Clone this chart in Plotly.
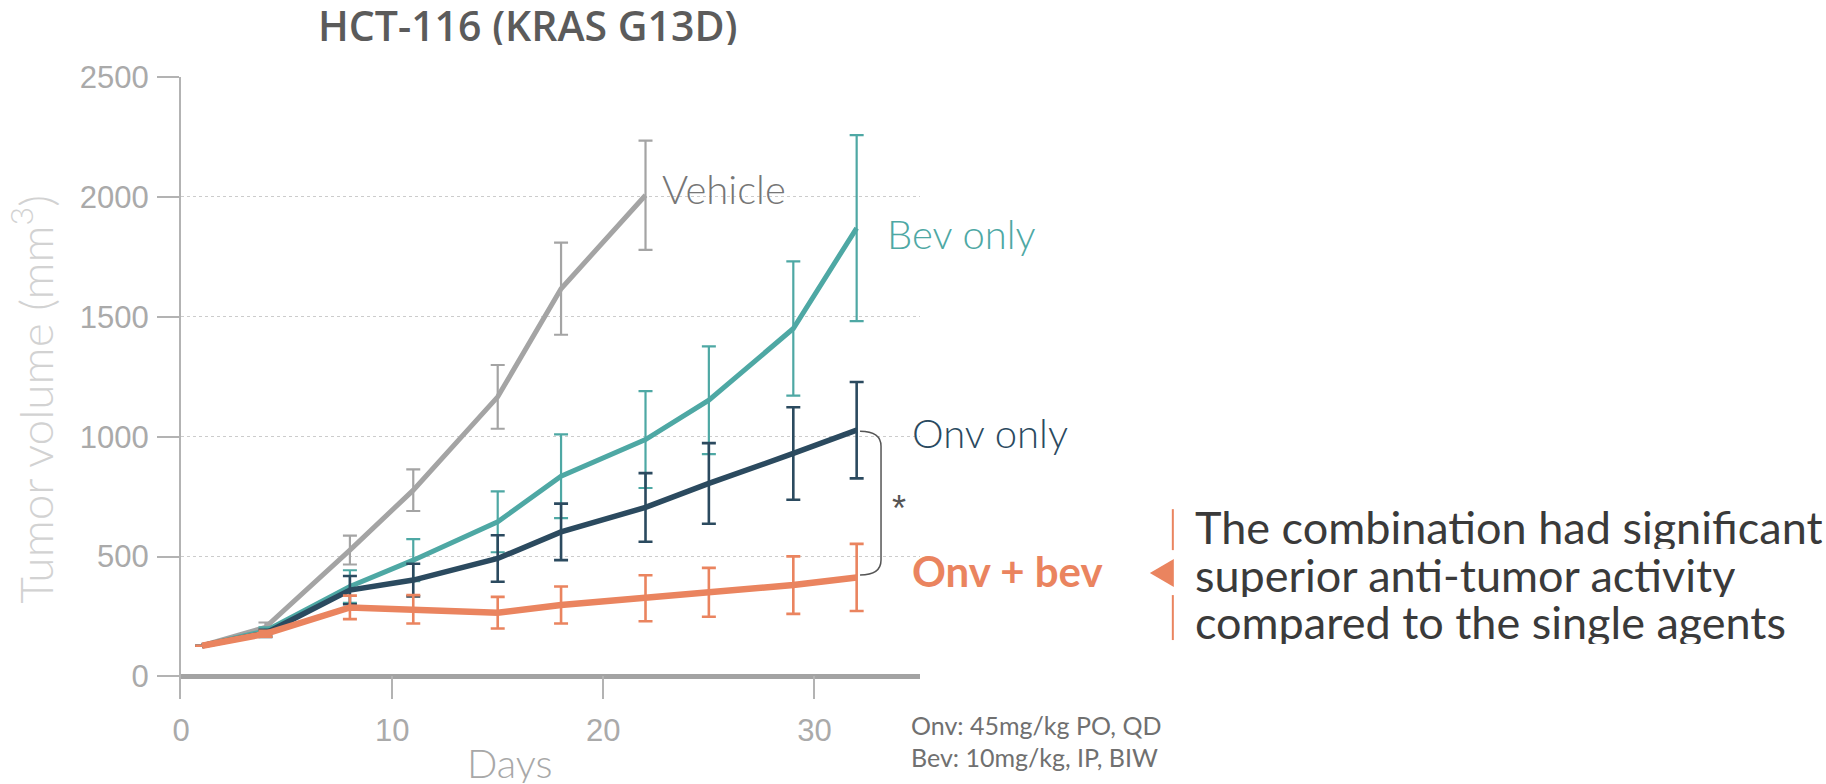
import plotly.graph_objects as go

# ---------------- data ----------------
days_vehicle = [1, 4, 8, 11, 15, 18, 22]
vehicle = [128, 205, 527, 777, 1166, 1617, 2007]
vehicle_err = [0, 20, 60, 87, 133, 192, 228]

days = [1, 4, 8, 11, 15, 18, 22, 25, 29, 32]
bev_only = [128, 190, 375, 485, 645, 835, 988, 1152, 1451, 1870]
bev_err = [0, 15, 68, 88, 127, 175, 202, 225, 280, 388]

onv_only = [128, 180, 360, 402, 492, 603, 705, 805, 930, 1027]
onv_err = [0, 15, 59, 68, 97, 118, 143, 168, 193, 201]

onv_bev = [128, 178, 288, 280, 266, 298, 326, 351, 381, 413]
onv_bev_err = [0, 12, 49, 59, 66, 77, 96, 102, 120, 140]

x_ticks = [0, 10, 20, 30]
y_ticks = [0, 500, 1000, 1500, 2000, 2500]

title_text = "HCT-116 (KRAS G13D)"
y_title = "Tumor volume (mm<sup>3</sup>)"
x_title = "Days"
summary_lines = ["The combination had significant",
                 "superior anti-tumor activity",
                 "compared to the single agents"]
footnote_lines = ["Onv: 45mg/kg PO, QD", "Bev: 10mg/kg, IP, BIW"]

# ---------------- styles ----------------
C_VEH = "#a4a4a4"
C_BEV = "#4ea8a4"
C_ONV = "#2b4a5f"
C_CMB = "#ea845f"
FONT = "Lato"

W, H = 1826, 784
L, R, T, B = 180.5, 920.0, 76.5, 699.0


def px(x):
    return (x - L) / (R - L)


def py(y):
    return (B - y) / (B - T)


fig = go.Figure()


def add_series(x, y, err, color, lw, ew):
    fig.add_trace(go.Scatter(
        x=x, y=y, mode="lines",
        line=dict(color=color, width=lw),
        error_y=dict(type="data", array=err, visible=True,
                     color=color, thickness=ew, width=7),
        showlegend=False, hoverinfo="skip", cliponaxis=False))


add_series(days_vehicle, vehicle, vehicle_err, C_VEH, 5, 2.2)
add_series(days, bev_only, bev_err, C_BEV, 5, 2.2)
add_series(days, onv_only, onv_err, C_ONV, 5.5, 2.6)
add_series(days, onv_bev, onv_bev_err, C_CMB, 6.5, 2.6)

annotations = []


def text(x, y, s, color, size, anchor="left", weight="normal", family=FONT,
         angle=0, height=None):
    a = dict(
        xref="paper", yref="paper", x=px(x), y=py(y), text=s,
        showarrow=False, xanchor=anchor, yanchor="middle", textangle=angle,
        font=dict(family=family, size=size, color=color, weight=weight))
    if height is not None:
        a["height"] = height
    annotations.append(a)


text(527, 24, title_text, "#5b5b5b", 41, anchor="center", weight=600,
     family="Open Sans", height=40)
text(660, 189, "Vehicle", "#767676", 40, weight=300)
text(885, 234, "Bev only", C_BEV, 40, weight=300)
text(910, 433, "Onv only", C_ONV, 40, weight=300)
text(910, 571, "Onv + bev", C_CMB, 42, weight="bold")
text(899, 508, "*", "#555555", 36, anchor="center", family="Liberation Sans")
text(31, 399, y_title, "#d2d2d2", 46, anchor="center", angle=-90, weight=300)
text(510, 763, x_title, "#a8a8a8", 40, anchor="center", weight=300, height=40)
for i, s in enumerate(summary_lines):
    text(1193, 527 + i * 47.5, s, "#3a3a3a", 45, height=44)
for i, s in enumerate(footnote_lines):
    text(909, 725 + i * 32, s, "#707070", 25, height=30)

shapes = []
# bracket
shapes.append(dict(
    type="path", xref="paper", yref="paper",
    path=(f"M {px(860)},{py(431)} Q {px(881)},{py(431)} {px(881)},{py(446)} "
          f"L {px(881)},{py(560)} Q {px(881)},{py(575)} {px(860)},{py(575)}"),
    line=dict(color="#555555", width=1.5)))
# orange marker lines and triangle
shapes.append(dict(type="line", xref="paper", yref="paper",
                   x0=px(1173), x1=px(1173), y0=py(509), y1=py(550),
                   line=dict(color=C_CMB, width=2)))
shapes.append(dict(type="line", xref="paper", yref="paper",
                   x0=px(1173), x1=px(1173), y0=py(595), y1=py(640),
                   line=dict(color=C_CMB, width=2)))
shapes.append(dict(type="path", xref="paper", yref="paper",
                   path=f"M {px(1150)},{py(573)} L {px(1174)},{py(559)} L {px(1174)},{py(587)} Z",
                   fillcolor=C_CMB, line=dict(width=0)))

fig.update_layout(
    width=W, height=H,
    margin=dict(l=L, r=W - R, t=T, b=H - B, autoexpand=False),
    paper_bgcolor="white", plot_bgcolor="white",
    annotations=annotations, shapes=shapes,
    showlegend=False,
    xaxis=dict(
        range=[0, 35], tickvals=x_ticks, ticks="inside", ticklen=23,
        tickwidth=2, tickcolor="#b3b3b3", showline=False, showgrid=False,
        zeroline=False, ticklabelstandoff=10,
        tickfont=dict(family="Liberation Sans", size=31, color="#aaaaaa")),
    yaxis=dict(
        range=[-94, 2500], tickvals=y_ticks, ticks="outside", ticklen=22,
        tickwidth=2, tickcolor="#b3b3b3", showline=True, linecolor="#b3b3b3",
        linewidth=2, showgrid=True, gridcolor="#cccccc", griddash="dot",
        gridwidth=1, zeroline=True, zerolinecolor="#a3a3a3", zerolinewidth=5,
        ticklabelstandoff=2,
        tickfont=dict(family="Liberation Sans", size=31, color="#aaaaaa")),
)

fig.write_html("out.html", config={"displayModeBar": False},
               post_script="document.body.style.margin='0px';")
